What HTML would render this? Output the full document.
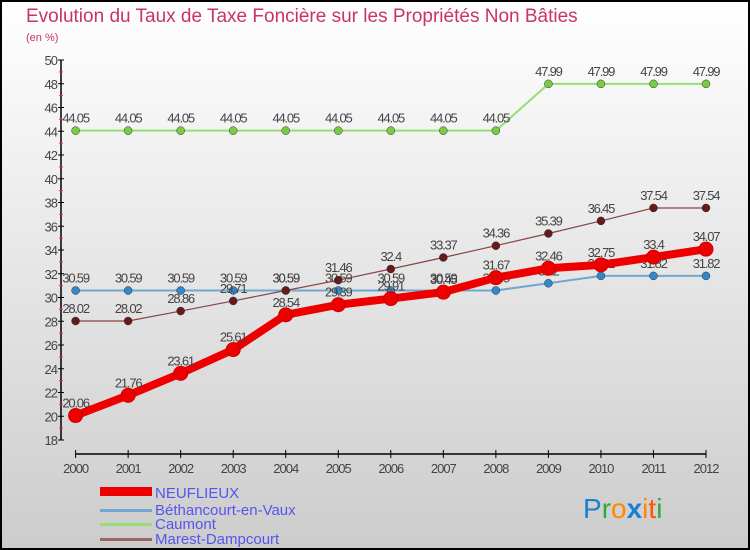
<!DOCTYPE html>
<html><head><meta charset="utf-8"><style>
body{margin:0;width:750px;height:550px;overflow:hidden}
svg{display:block;font-family:"Liberation Sans",sans-serif}
</style></head><body>
<svg id="c" width="750" height="550">
<defs><linearGradient id="bg" x1="0" y1="0" x2="0" y2="1"><stop offset="0" stop-color="#ffffff"/><stop offset="1" stop-color="#cccccc"/></linearGradient></defs>
<rect x="1" y="1" width="748" height="548" fill="url(#bg)" stroke="#000" stroke-width="2"/>
<text x="26" y="22" font-size="19" fill="#c8336a">Evolution du Taux de Taxe Foncière sur les Propriétés Non Bâties</text>
<text x="26" y="41" font-size="11" fill="#c8336a">(en %)</text>
<g id="axes"></g><g id="series"></g>
<g>
<rect x="100" y="487" width="52" height="9" fill="#ee0000"/>
<text x="155" y="498" font-size="15" fill="#5555ee">NEUFLIEUX</text>
<rect x="100" y="509" width="52" height="3" fill="#6fa8d0"/>
<text x="155" y="515" font-size="15" fill="#5555ee">Béthancourt-en-Vaux</text>
<rect x="100" y="523" width="52" height="3" fill="#99dd77"/>
<text x="155" y="529" font-size="15" fill="#5555ee">Caumont</text>
<rect x="100" y="538" width="52" height="3" fill="#996666"/>
<text x="155" y="544" font-size="15" fill="#5555ee">Marest-Dampcourt</text>
</g>
<g font-size="28">
<text x="583" y="518"><tspan fill="#1a7fd0">P</tspan><tspan fill="#33aa33">r</tspan><tspan fill="#ff8800">o</tspan><tspan fill="#1a7fd0" font-weight="bold">x</tspan><tspan fill="#ff8800">i</tspan><tspan fill="#ff5500">t</tspan><tspan fill="#33aa33">i</tspan></text>
</g>
</svg>
<script>
const years=[2000,2001,2002,2003,2004,2005,2006,2007,2008,2009,2010,2011,2012];
const neuflieux=[20.06,21.76,23.61,25.61,28.54,29.39,29.91,30.45,31.67,32.46,32.75,33.4,34.07];
const bethancourt=[30.59,30.59,30.59,30.59,30.59,30.59,30.59,30.59,30.59,31.2,31.82,31.82,31.82];
const caumont=[44.05,44.05,44.05,44.05,44.05,44.05,44.05,44.05,44.05,47.99,47.99,47.99,47.99];
const marest=[28.02,28.02,28.86,29.71,30.59,31.46,32.4,33.37,34.36,35.39,36.45,37.54,37.54];
const yTicks=[18,20,22,24,26,28,30,32,34,36,38,40,42,44,46,48,50];
const NS="http://www.w3.org/2000/svg";
const x=i=>75.6+i*(706-75.6)/(years.length-1);
const y=v=>440-(v-18)*(380/32);
function mk(t,a,p){const e=document.createElementNS(NS,t);for(const k in a)e.setAttribute(k,a[k]);p.appendChild(e);return e;}
const ax=document.getElementById('axes');
let l=mk('line',{x1:61,y1:y(50),x2:61,y2:440,stroke:'#000','stroke-width':1.5},ax);

yTicks.forEach(v=>{
 const t=mk('line',{x1:58,y1:y(v),x2:64,y2:y(v),stroke:'#000'},ax);
 
 if(v<50){const m=mk('line',{x1:59,y1:y(v+1),x2:63,y2:y(v+1),stroke:'#e33'},ax);
 }
 const tx=mk('text',{x:57,y:y(v)+5,'font-size':13,fill:'#444','text-anchor':'end','letter-spacing':'-1'},ax);tx.textContent=v;
 
});
l=mk('line',{x1:75.6,y1:454,x2:706,y2:454,stroke:'#000','stroke-width':1.5},ax);

years.forEach((yr,i)=>{
 const t=mk('line',{x1:x(i),y1:450,x2:x(i),y2:458,stroke:'#000'},ax);
 
 const tx=mk('text',{x:x(i),y:473,'font-size':13,fill:'#444','text-anchor':'middle','letter-spacing':'-1'},ax);tx.textContent=yr;
 
});
const sg=document.getElementById('series');
const defs=[
 [caumont,'#99dd77','#77cc44',2,4,'caumont'],
 [bethancourt,'#6fa8d0','#3388cc',2,4,'bethancourt'],
 [marest,'#884444','#661a1a',1.2,4,'marest'],
 [neuflieux,'#ee0000','#ee0000',8,7,'neuflieux']];
defs.forEach(([d,lc,pc,w,r,n])=>{
 const p=mk('polyline',{points:d.map((v,i)=>x(i)+','+y(v)).join(' '),fill:'none',stroke:lc,'stroke-width':w,'stroke-linejoin':'round'},sg);
 
 d.forEach((v,i)=>{
  const c=mk('circle',{cx:x(i),cy:y(v),r:r,fill:pc,stroke:n==='neuflieux'?'#cc0000':'#333','stroke-width':n==='neuflieux'?1:0.5},sg);
  
  const t=mk('text',{x:x(i),y:y(v)-8,'font-size':13,fill:'#444','text-anchor':'middle','letter-spacing':'-1.2'},sg);t.textContent=v;
  
 });
});
</script>
</body></html>
